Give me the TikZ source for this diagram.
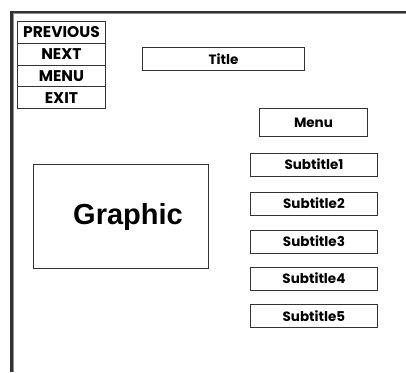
\documentclass[tikz,border=0pt]{standalone}
\usepackage{fontspec}
\setmainfont{Liberation Sans}
\newfontfamily\gothic{Poppins}
\begin{document}
\begin{tikzpicture}[x=1pt,y=-1pt,
  box/.style={draw=black!80,line width=0.9pt,fill=white,inner sep=0pt,anchor=north west},
  navtxt/.style={font=\gothic\bfseries\fontsize{15.5}{15.5}\selectfont},
  subtxt/.style={font=\gothic\bfseries\fontsize{13.5}{13.5}\selectfont}]
\useasboundingbox (0,0) rectangle (406,372);
\fill[white] (0,0) rectangle (406,372);
% outer frame
\coordinate (ftop) at (406,12);
\coordinate (fcorner) at (11.5,12);
\coordinate (fbot) at (11.5,372);
\draw[line width=2.6pt,black!80,line join=miter] (ftop) -- (fcorner) -- (fbot);
\draw[line width=0.6pt,black!45] (406,13.6) -- (13.1,13.6) -- (13.1,372);
% navigation buttons
\node[box,minimum width=88pt,minimum height=21.75pt,navtxt] (prev) at (17,21) {PREVIOUS};
\node[box,minimum width=88pt,minimum height=21.75pt,navtxt] (next) at (17,42.75) {NEXT};
\node[box,minimum width=88pt,minimum height=21.75pt,navtxt] (menu) at (17,64.5) {MENU};
\node[box,minimum width=88pt,minimum height=21.75pt,navtxt] (exit) at (17,86.25) {EXIT};
% title
\node[box,minimum width=162pt,minimum height=23pt,subtxt] (title) at (142,47) {Title};
% menu
\node[box,minimum width=108pt,minimum height=28pt,subtxt] (menubox) at (259,108) {Menu};
% subtitles
\node[box,minimum width=127pt,minimum height=23pt,subtxt] (s1) at (250,152.5) {Subtitle1};
\node[box,minimum width=127pt,minimum height=23pt,subtxt] (s2) at (250,191.5) {Subtitle2};
\node[box,minimum width=127pt,minimum height=23pt,subtxt] (s3) at (250,229.5) {Subtitle3};
\node[box,minimum width=127pt,minimum height=23pt,subtxt] (s4) at (250,266.5) {Subtitle4};
\node[box,minimum width=127pt,minimum height=23pt,subtxt] (s5) at (250,304) {Subtitle5};
% graphic
\node[box,minimum width=175pt,minimum height=104pt] (graphic) at (33,164) {};
\node[font=\bfseries\fontsize{29}{29}\selectfont,inner sep=0pt] (graphiclabel) at (128,217) {Graphic};
\end{tikzpicture}
\end{document}
